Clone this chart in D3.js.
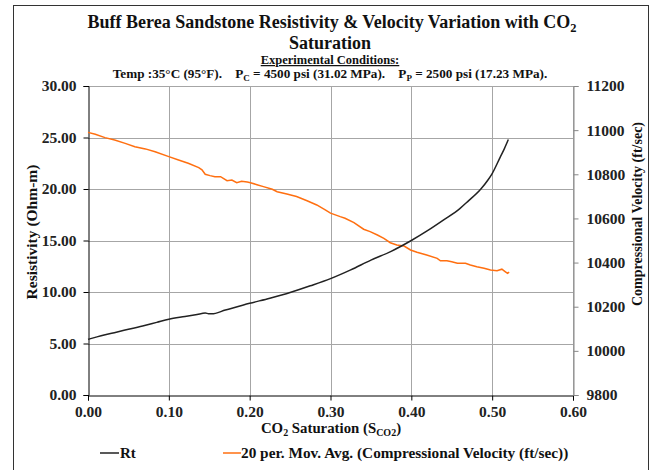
<!DOCTYPE html>
<html><head><meta charset="utf-8">
<script src="https://cdn.jsdelivr.net/npm/d3@7"></script>
<style>
body{margin:0;background:#fff;}
text{font-family:"Liberation Serif","Times New Roman","DejaVu Serif",serif !important;font-weight:bold;}
</style></head><body>
<svg id="c" width="659" height="470"></svg>
<script>
// ---- data ----
const rtSat = [0.000,0.010,0.020,0.035,0.050,0.070,0.085,0.100,0.120,0.135,0.145,0.149,0.153,0.170,0.200,0.225,0.250,0.275,0.300,0.325,0.350,0.375,0.400,0.420,0.440,0.460,0.470,0.486,0.495,0.500,0.510,0.515,0.520];
const rtVal = [5.40,5.62,5.83,6.10,6.38,6.75,7.05,7.35,7.62,7.82,7.95,7.90,7.88,8.25,8.90,9.40,9.95,10.60,11.30,12.15,13.10,13.95,15.00,15.95,17.00,18.10,18.80,20.00,20.90,21.50,23.10,23.90,24.80];

const velSat = [0.000,0.009,0.021,0.033,0.046,0.058,0.071,0.083,0.100,0.112,0.124,0.137,0.141,0.145,0.151,0.157,0.164,0.172,0.178,0.184,0.190,0.197,0.201,0.209,0.217,0.228,0.234,0.246,0.258,0.271,0.283,0.294,0.300,0.312,0.318,0.329,0.341,0.349,0.358,0.366,0.374,0.382,0.391,0.399,0.407,0.419,0.432,0.436,0.444,0.450,0.457,0.467,0.473,0.481,0.490,0.498,0.506,0.512,0.516,0.519,0.521];
const velVal = [10990,10981,10966,10955,10940,10925,10915,10902,10880,10865,10850,10830,10820,10800,10794,10789,10789,10771,10774,10762,10768,10765,10762,10753,10744,10732,10721,10711,10699,10680,10661,10638,10624,10608,10601,10581,10551,10540,10525,10510,10490,10480,10475,10457,10447,10434,10419,10408,10408,10404,10397,10397,10389,10381,10374,10366,10363,10370,10359,10351,10357];

const xTicks = [0,0.1,0.2,0.3,0.4,0.5,0.6];
const yLeftTicks = [0,5,10,15,20,25,30];
const yRightTicks = [9800,10000,10200,10400,10600,10800,11000,11200];

// ---- layout ----
const FONT = "Liberation Serif, Times New Roman, DejaVu Serif, serif";
const svg = d3.select("#c");
const L = 88, R = 573, T = 86, B = 395;
const x = d3.scaleLinear().domain([0,0.6]).range([L,R]);
const yL = d3.scaleLinear().domain([0,30]).range([B,T]);
const yR = d3.scaleLinear().domain([9800,11200]).range([B,T]);

// frame
svg.append("rect").attr("x",13.5).attr("y",5.5).attr("width",635).attr("height",480)
  .attr("fill","none").attr("stroke","#333").attr("stroke-width",1);

// gridlines
const grid = svg.append("g").attr("stroke","#a6a6a6").attr("stroke-width",1);
yLeftTicks.filter(d=>d>0).forEach(d=>{
  grid.append("line").attr("x1",L).attr("x2",R).attr("y1",Math.round(yL(d))+0.5).attr("y2",Math.round(yL(d))+0.5);
});
xTicks.filter(d=>d>0).forEach(d=>{
  grid.append("line").attr("y1",T).attr("y2",B).attr("x1",Math.round(x(d))+0.5).attr("x2",Math.round(x(d))+0.5);
});

// axes
function styleAxis(g, color){
  g.attr("font-family",FONT);
  g.selectAll("path").attr("stroke",color);
  g.selectAll("line").attr("stroke",color);
  g.selectAll("text").attr("font-family",FONT).attr("font-weight","bold").attr("font-size","15.5px").attr("fill","#222");
}
const ax = svg.append("g").attr("transform",`translate(0,${B+0.5})`)
  .call(d3.axisBottom(x).tickValues(xTicks).tickFormat(d3.format(".2f")).tickSizeOuter(0).tickSize(5).tickPadding(5));
styleAxis(ax,"#000");
const ayl = svg.append("g").attr("transform",`translate(${L+0.5},0)`)
  .call(d3.axisLeft(yL).tickValues(yLeftTicks).tickFormat(d3.format(".2f")).tickSizeOuter(0).tickSize(5).tickPadding(7));
styleAxis(ayl,"#000");
const ayr = svg.append("g").attr("transform",`translate(${R+0.5},0)`)
  .call(d3.axisRight(yR).tickValues(yRightTicks).tickFormat(d3.format("d")).tickSizeOuter(0).tickSize(5).tickPadding(8));
styleAxis(ayr,"#888");

// lines
svg.append("path").datum(velSat.map((s,i)=>[s,velVal[i]]))
  .attr("fill","none").attr("stroke","#ff6f10").attr("stroke-width",1.5)
  .attr("d", d3.line().x(d=>x(d[0])).y(d=>yR(d[1])));
svg.append("path").datum(rtSat.map((s,i)=>[s,rtVal[i]]))
  .attr("fill","none").attr("stroke","#222").attr("stroke-width",1.5)
  .attr("d", d3.line().curve(d3.curveMonotoneX).x(d=>x(d[0])).y(d=>yL(d[1])));

function T_(sel){ return sel.attr("font-family",FONT).attr("font-weight","bold").attr("fill","#111"); }

// titles
const t1 = T_(svg.append("text")).attr("x",332).attr("y",28).attr("text-anchor","middle").attr("font-size","18px");
t1.append("tspan").text("Buff Berea Sandstone Resistivity & Velocity Variation with CO");
t1.append("tspan").attr("font-size","12.5px").attr("dy",4).text("2");
T_(svg.append("text")).attr("x",330).attr("y",49).attr("text-anchor","middle").attr("font-size","18px").text("Saturation");
T_(svg.append("text")).attr("x",330).attr("y",64).attr("text-anchor","middle").attr("font-size","12.5px")
  .attr("text-decoration","underline").text("Experimental Conditions:");
const t4 = T_(svg.append("text")).attr("x",330).attr("y",78).attr("text-anchor","middle").attr("font-size","13.2px").attr("xml:space","preserve");
t4.append("tspan").text("Temp :35°C (95°F).    P");
t4.append("tspan").attr("font-size","9px").attr("dy",3).text("C");
t4.append("tspan").attr("dy",-3).text(" = 4500 psi (31.02 MPa).    P");
t4.append("tspan").attr("font-size","9px").attr("dy",3).text("P");
t4.append("tspan").attr("dy",-3).text(" = 2500 psi (17.23 MPa).");

// axis titles
const xt = T_(svg.append("text")).attr("x",331).attr("y",433).attr("text-anchor","middle").attr("font-size","14.8px");
xt.append("tspan").text("CO");
xt.append("tspan").attr("font-size","10px").attr("dy",3).text("2");
xt.append("tspan").attr("dy",-3).text(" Saturation (S");
xt.append("tspan").attr("font-size","10px").attr("dy",3).text("CO2");
xt.append("tspan").attr("dy",-3).text(")");

T_(svg.append("text")).attr("transform","translate(37,232) rotate(-90)").attr("text-anchor","middle")
  .attr("font-size","15.5px").text("Resistivity (Ohm-m)");
T_(svg.append("text")).attr("transform","translate(642,214) rotate(-90)").attr("text-anchor","middle")
  .attr("font-size","14px").text("Compressional Velocity (ft/sec)");

// legend
const lg = svg.append("g");
lg.append("line").attr("x1",100).attr("x2",119).attr("y1",453).attr("y2",453).attr("stroke","#222").attr("stroke-width",1.5);
T_(lg.append("text")).attr("x",120).attr("y",458).attr("font-size","15px").text("Rt");
lg.append("line").attr("x1",223).attr("x2",241).attr("y1",453).attr("y2",453).attr("stroke","#ff6f10").attr("stroke-width",1.5);
T_(lg.append("text")).attr("x",241).attr("y",458).attr("font-size","15.3px").text("20 per. Mov. Avg. (Compressional Velocity (ft/sec))");
</script>
</body></html>
